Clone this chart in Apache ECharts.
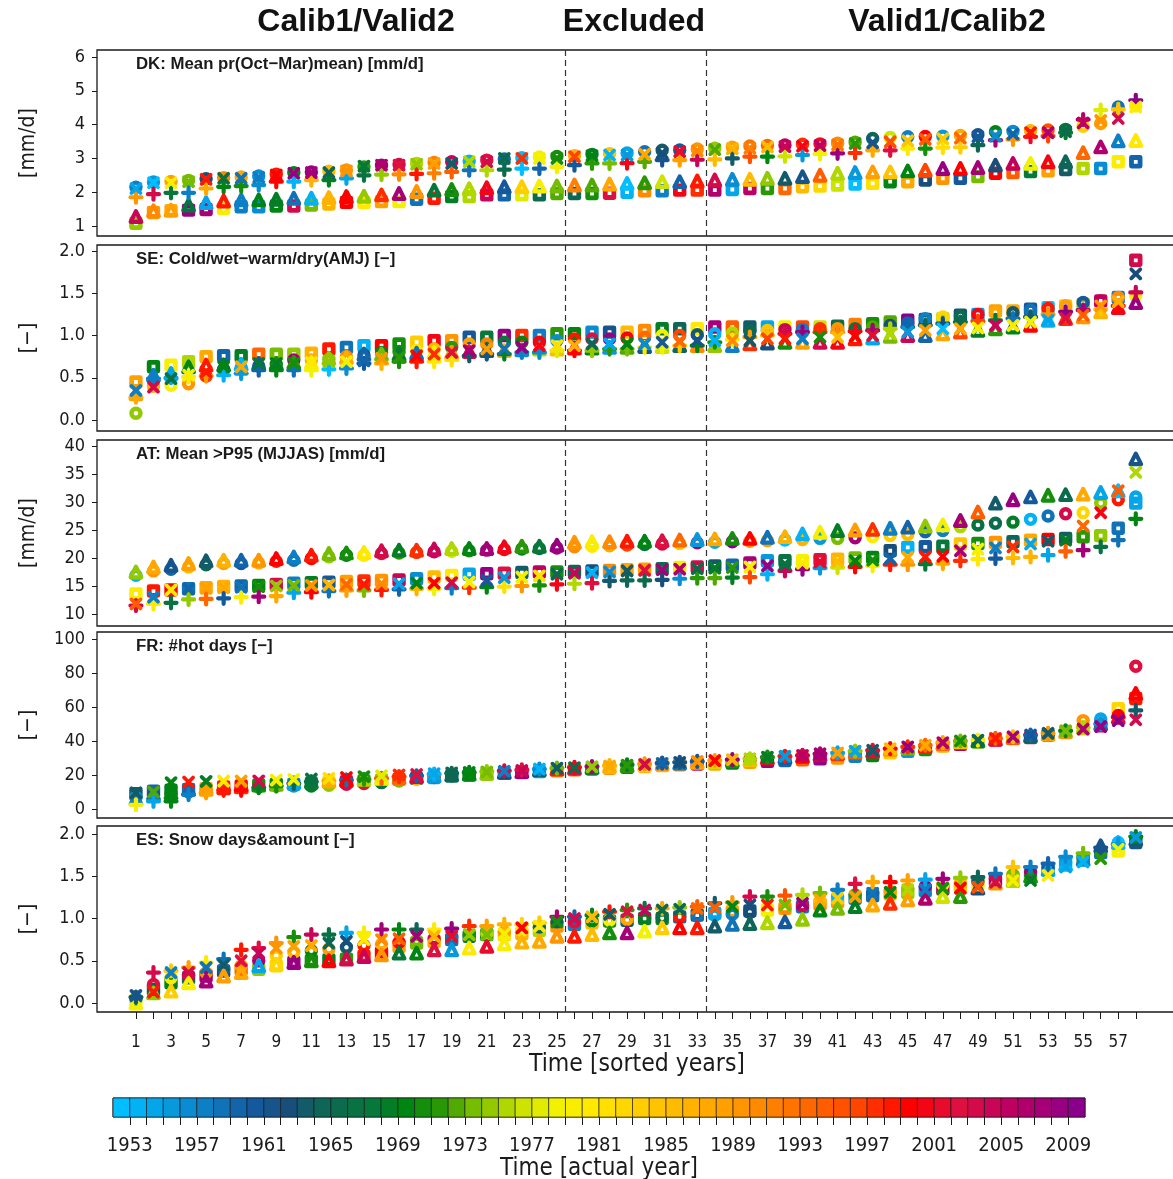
<!DOCTYPE html>
<html><head><meta charset="utf-8">
<script src="https://cdn.jsdelivr.net/npm/echarts@6/dist/echarts.min.js"></script>
<style>html,body{margin:0;padding:0;background:#fff}#c{width:1173px;height:1179px}</style>
</head><body><div id="c"></div>
<script>
// ---------------- DATA ----------------
const ranks = [1,2,3,4,5,6,7,8,9,10,11,12,13,14,15,16,17,18,19,20,21,22,23,24,25,26,27,28,29,30,31,32,33,34,35,36,37,38,39,40,41,42,43,44,45,46,47,48,49,50,51,52,53,54,55,56,57,58];
const rankLabels = [1,3,5,7,9,11,13,15,17,19,21,23,25,27,29,31,33,35,37,39,41,43,45,47,49,51,53,55,57];
const periodBounds = [25.5, 33.5];
const periodNames = ['Calib1/Valid2', 'Excluded', 'Valid1/Calib2'];
const panelTitles = ['DK: Mean pr(Oct\u2212Mar)mean) [mm/d]', 'SE: Cold/wet\u2212warm/dry(AMJ) [\u2212]', 'AT: Mean >P95 (MJJAS) [mm/d]', 'FR: #hot days [\u2212]', 'ES: Snow days&amount [\u2212]'];
const panelUnits = ['[mm/d]', '[\u2212]', '[mm/d]', '[\u2212]', '[\u2212]'];
const DK_ticks = [1,2,3,4,5,6];
const SE_ticks = [0,0.5,1,1.5,2];
const AT_ticks = [10,15,20,25,30,35,40];
const FR_ticks = [0,20,40,60,80,100];
const ES_ticks = [0,0.5,1,1.5,2];
const cbYears = [1953,1954,1955,1956,1957,1958,1959,1960,1961,1962,1963,1964,1965,1966,1967,1968,1969,1970,1971,1972,1973,1974,1975,1976,1977,1978,1979,1980,1981,1982,1983,1984,1985,1986,1987,1988,1989,1990,1991,1992,1993,1994,1995,1996,1997,1998,1999,2000,2001,2002,2003,2004,2005,2006,2007,2008,2009,2010];
const cbTickYears = [1953,1954,1955,1956,1957,1958,1959,1960,1961,1962,1963,1964,1965,1966,1967,1968,1969,1970,1971,1972,1973,1974,1975,1976,1977,1978,1979,1980,1981,1982,1983,1984,1985,1986,1987,1988,1989,1990,1991,1992,1993,1994,1995,1996,1997,1998,1999,2000,2001,2002,2003,2004,2005,2006,2007,2008,2009];
const cbLabelYears = [1953,1957,1961,1965,1969,1973,1977,1981,1985,1989,1993,1997,2001,2005,2009];

// DK
const DK_square = [1.08,1.40,1.45,1.47,1.49,1.52,1.57,1.57,1.59,1.59,1.62,1.65,1.70,1.70,1.72,1.72,1.79,1.82,1.87,1.87,1.92,1.92,1.92,1.92,1.96,1.96,1.96,1.97,2.00,2.04,2.04,2.06,2.06,2.06,2.08,2.11,2.11,2.11,2.16,2.18,2.21,2.24,2.26,2.31,2.31,2.36,2.41,2.41,2.46,2.56,2.58,2.61,2.63,2.67,2.70,2.70,2.90,2.90];
const DK_square_yr = [1975,1990,1988,2009,2008,1980,1958,1957,1970,2004,1974,1987,2000,1981,1989,1979,1959,1999,1969,1976,2005,1960,1978,1966,1973,1965,1971,2003,1954,1991,1958,2001,1998,2007,1955,2006,1972,1994,1986,1983,1977,1953,1982,1970,1988,1963,1990,1961,1974,2000,1995,1968,1989,1964,1976,1957,1980,1960];
const DK_circle = [2.15,2.30,2.32,2.35,2.40,2.43,2.45,2.48,2.53,2.58,2.60,2.62,2.66,2.75,2.80,2.82,2.85,2.88,2.90,2.92,2.95,2.98,3.02,3.04,3.06,3.08,3.12,3.14,3.16,3.20,3.24,3.25,3.28,3.30,3.33,3.37,3.38,3.40,3.42,3.43,3.45,3.48,3.59,3.62,3.64,3.65,3.66,3.68,3.70,3.79,3.80,3.82,3.84,3.86,3.95,4.03,4.52,4.55];
const DK_circle_yr = [1958,1956,1989,1974,1963,1991,1988,1957,1999,1970,2009,1986,1990,1972,2008,2004,1976,1992,2005,1954,2003,1960,1953,1980,1971,1987,1969,1985,1955,1959,1964,1961,1990,1975,1989,1993,1994,2006,1998,2002,1991,1973,1965,1977,1958,2000,1956,1988,1962,1970,1957,1987,1996,1966,1984,1989,1959,1980];
const DK_triangle = [1.28,1.45,1.47,1.62,1.69,1.74,1.77,1.77,1.79,1.82,1.82,1.84,1.87,1.88,1.92,1.96,2.02,2.06,2.08,2.10,2.13,2.16,2.16,2.18,2.18,2.21,2.21,2.24,2.26,2.28,2.31,2.31,2.33,2.36,2.38,2.38,2.41,2.41,2.46,2.50,2.56,2.58,2.60,2.60,2.63,2.65,2.70,2.70,2.73,2.80,2.85,2.85,2.90,2.90,3.17,3.34,3.52,3.53];
const DK_triangle_yr = [2005,1991,1989,1967,1955,1999,1958,1970,1969,1959,1954,1987,2000,1975,1998,2008,1990,1968,1971,1976,2001,1961,1984,1980,1974,1992,1973,1988,1953,1972,1977,1960,1999,2004,1957,1986,1975,1964,1962,1995,1976,1956,1989,1985,1970,1997,2009,2000,2008,1963,2006,1979,2001,1965,1994,2007,1958,1981];
const DK_cross = [2.11,2.28,2.28,2.31,2.38,2.41,2.41,2.44,2.51,2.56,2.58,2.58,2.63,2.77,2.80,2.80,2.83,2.85,2.85,2.90,2.90,3.00,3.00,3.00,3.00,3.05,3.08,3.10,3.10,3.12,3.16,3.20,3.22,3.26,3.29,3.30,3.34,3.35,3.36,3.38,3.40,3.44,3.46,3.49,3.52,3.56,3.58,3.60,3.64,3.66,3.72,3.76,3.76,3.79,4.05,4.12,4.18,4.52];
const DK_cross_yr = [1955,1953,1980,1974,1999,1967,1959,1958,2000,2009,2008,1965,1990,1968,2007,2003,1975,1989,1964,1976,2004,1966,1998,1979,1971,1997,1970,1954,1956,1988,1963,2002,1991,1973,1987,1992,1986,2005,2001,2006,1993,1972,1962,1996,1985,1995,1984,1994,1961,1957,1960,1999,2007,1966,2006,1990,2004,1981];
const DK_plus = [1.85,1.94,1.98,1.98,2.11,2.16,2.18,2.21,2.31,2.31,2.36,2.36,2.41,2.50,2.52,2.53,2.54,2.56,2.60,2.65,2.65,2.67,2.70,2.70,2.75,2.80,2.85,2.85,2.86,2.90,2.95,2.95,2.96,2.97,3.00,3.05,3.05,3.06,3.10,3.13,3.15,3.16,3.24,3.24,3.29,3.29,3.32,3.33,3.39,3.54,3.56,3.64,3.66,3.76,4.15,4.43,4.45,4.72];
const DK_plus_yr = [1990,2004,1968,1958,1988,1970,1971,1957,2000,1954,1987,1969,1955,1967,1975,1991,1999,1992,1995,1959,1976,1966,1953,1960,1980,1961,1972,1974,2001,1973,1962,1989,2005,1986,1964,1996,1970,1977,1956,1979,2009,1998,1988,2003,1981,1971,1982,1984,1965,2008,1990,2002,1997,1969,2006,1978,1985,2010];

// SE
const SE_square = [0.45,0.63,0.65,0.69,0.75,0.76,0.76,0.78,0.78,0.78,0.79,0.84,0.86,0.88,0.88,0.90,0.92,0.94,0.94,0.98,0.98,1.00,1.00,1.00,1.02,1.02,1.04,1.04,1.04,1.06,1.08,1.08,1.08,1.10,1.10,1.10,1.10,1.10,1.10,1.10,1.11,1.13,1.14,1.16,1.18,1.19,1.20,1.24,1.25,1.29,1.29,1.31,1.33,1.35,1.37,1.41,1.45,1.89];
const SE_square_yr = [1989,1970,1980,1976,1988,1960,1969,1994,1974,1975,1987,1999,1959,1954,2000,1971,1984,2001,1990,1961,1968,2009,1998,1958,1972,1970,1957,1962,1986,1991,1969,1965,1981,2008,1995,1964,1955,1979,1997,1977,1966,1992,1971,1973,2010,1963,1976,1963,1956,1989,1988,1961,1953,1985,1975,2005,1958,2004];
const SE_circle = [0.08,0.40,0.41,0.43,0.52,0.60,0.62,0.64,0.66,0.71,0.71,0.72,0.75,0.77,0.80,0.81,0.82,0.84,0.86,0.90,0.90,0.92,0.92,0.92,0.94,0.96,0.96,0.96,0.97,0.98,1.00,1.00,1.01,1.02,1.03,1.05,1.06,1.07,1.07,1.08,1.08,1.08,1.10,1.12,1.15,1.20,1.22,1.23,1.25,1.27,1.27,1.30,1.32,1.35,1.39,1.41,1.45,1.47];
const SE_circle_yr = [1975,1987,1980,1990,1998,1959,1955,1961,1970,2008,1988,1974,1991,1962,1969,1971,1981,1986,1972,1989,1992,1968,1970,2000,1957,1999,2003,2009,2001,1994,1979,1997,1964,1954,1976,1965,1985,2005,1958,1998,1990,1967,1973,1963,1960,1958,1983,1966,2001,1988,1964,1959,1999,1989,1961,2006,1991,1980];
const SE_triangle = [0.31,0.53,0.55,0.63,0.65,0.65,0.66,0.67,0.67,0.68,0.68,0.73,0.74,0.78,0.78,0.78,0.79,0.80,0.80,0.81,0.82,0.82,0.83,0.84,0.84,0.85,0.85,0.86,0.86,0.87,0.87,0.88,0.88,0.88,0.88,0.90,0.91,0.92,0.92,0.92,0.92,0.96,0.97,0.99,1.00,1.00,1.02,1.04,1.06,1.08,1.10,1.12,1.18,1.20,1.22,1.28,1.33,1.39];
const SE_triangle_yr = [1989,1958,1955,1970,1999,1969,1954,1961,1971,1972,1980,1975,1988,1960,1974,1968,1959,1979,1990,2003,1964,1987,1957,1976,1986,2000,1970,1956,1973,1962,1977,1965,1991,1975,1958,1998,1963,1971,1989,2004,2001,1999,1955,1974,2005,1960,1988,1997,1969,1972,1970,2000,1954,1998,1990,1987,2001,2009];
const SE_cross = [0.35,0.39,0.49,0.53,0.57,0.63,0.63,0.67,0.67,0.67,0.68,0.69,0.69,0.70,0.73,0.74,0.76,0.78,0.80,0.82,0.84,0.84,0.86,0.88,0.88,0.88,0.90,0.90,0.90,0.90,0.92,0.93,0.94,0.94,0.94,0.94,0.96,0.96,0.96,0.98,0.98,0.99,1.00,1.02,1.04,1.06,1.08,1.08,1.09,1.12,1.12,1.16,1.18,1.20,1.24,1.35,1.40,1.73];
const SE_cross_yr = [1958,2004,1967,1980,1999,1970,1988,1968,1969,1971,1981,1975,1979,1960,1990,1972,2000,1998,2003,2008,1989,1959,2009,2001,1982,1987,1965,1955,1970,1957,1961,1994,1962,1954,1991,1964,1997,1999,1958,1971,1986,2000,2002,1976,1956,1989,1953,1988,1980,2005,1981,1979,1955,2003,1995,1990,1987,1963];
const SE_plus = [0.27,0.49,0.50,0.51,0.52,0.53,0.55,0.59,0.59,0.59,0.59,0.60,0.61,0.67,0.67,0.69,0.69,0.69,0.71,0.76,0.78,0.78,0.80,0.80,0.82,0.82,0.82,0.84,0.84,0.86,0.86,0.88,0.88,0.92,0.95,0.98,1.00,1.02,1.04,1.04,1.04,1.05,1.06,1.08,1.10,1.12,1.14,1.16,1.17,1.18,1.20,1.22,1.25,1.28,1.30,1.31,1.35,1.51];
const SE_plus_yr = [1988,1958,1955,1980,1990,1954,1956,1960,1970,1959,1979,1953,1957,1961,1987,1971,1999,1981,1982,1964,1962,1969,1958,1957,1978,2000,1975,1972,1974,1980,1979,1984,1970,1971,1981,1989,1986,2004,2009,1998,1991,2001,2008,1976,1960,1965,1963,1966,1997,1968,1959,1964,1990,2010,2007,1985,2000,2005];

// AT
const AT_square = [13.6,14.1,14.3,14.5,14.7,14.9,15.0,15.1,15.3,15.5,15.6,15.7,15.8,15.9,16.0,16.1,16.3,16.6,16.9,17.1,17.2,17.3,17.4,17.5,17.5,17.6,17.7,17.8,17.9,18.0,18.1,18.3,18.4,18.6,18.7,19.1,19.5,19.5,19.5,19.7,19.8,20.0,20.1,21.3,21.9,22.0,22.1,22.5,22.6,22.8,22.9,23.2,23.3,23.5,23.8,24.0,25.3,29.8];
const AT_square_yr = [1980,1999,2000,1959,1988,1987,1960,1970,2004,1958,1969,1961,1989,1998,1990,2005,1957,1986,1981,1955,2009,2003,1964,2006,1971,1965,1963,1991,1988,1989,1966,1980,2004,1964,1960,2008,1956,1967,1979,2003,1987,1974,1970,1963,1954,1961,1968,1985,1971,1990,1965,1988,2000,1964,1972,1975,1959,1955];
const AT_circle = [16.9,17.7,18.0,18.4,18.8,19.0,19.0,19.1,19.4,19.6,19.9,20.2,20.5,20.5,20.8,20.9,21.0,21.1,21.2,21.3,21.4,21.5,21.6,21.7,21.8,22.0,22.1,22.2,22.3,22.4,22.5,22.6,22.7,22.8,22.9,23.0,23.1,23.2,23.3,23.5,23.5,23.6,23.8,24.0,24.2,24.7,24.9,25.6,25.9,26.2,26.4,26.9,27.5,27.9,28.1,29.8,30.4,30.9];
const AT_circle_yr = [1954,1990,1960,1986,1965,1989,1961,1987,1999,1959,2000,1975,1970,1980,2003,1972,1998,2006,1977,1971,2009,2001,1969,1967,2008,1991,1981,1988,1997,1968,2004,1985,2007,1955,2010,1990,1989,1953,1987,1956,1974,2008,1980,1984,1986,1960,1958,1976,1967,1966,1969,1954,1959,2004,1983,1975,1999,1955];
const AT_triangle = [17.5,18.4,18.7,19.0,19.5,19.6,19.6,19.6,19.9,20.2,20.5,20.8,20.9,21.0,21.3,21.4,21.4,21.6,21.7,21.7,21.7,22.0,22.1,22.1,22.3,22.8,22.9,22.9,23.0,23.0,23.1,23.2,23.3,23.4,23.5,23.5,23.7,23.8,24.3,24.6,24.9,25.0,25.1,25.3,25.5,25.7,25.9,26.7,28.2,29.8,30.4,30.9,31.2,31.3,31.4,31.7,32.0,37.7];
const AT_triangle_yr = [1975,1988,1962,1989,1964,1987,1960,1990,2000,1958,1999,1974,1971,1981,2004,1969,1998,2005,1976,1970,2008,2001,1972,1968,2009,1990,1980,1991,1999,1970,2003,1994,1956,1988,1971,2000,1959,1987,1954,1980,1969,1989,1998,1958,1960,1975,1979,2008,1995,1964,2009,1961,1971,1966,1988,1955,1953,1962];
const AT_cross = [11.8,13.0,14.3,14.5,14.6,14.7,14.8,14.9,15.0,15.1,15.1,15.2,15.3,15.3,15.4,15.4,15.5,15.5,15.6,15.7,16.0,16.5,16.6,16.8,17.1,17.3,17.4,17.5,17.7,17.8,17.9,18.0,18.1,18.2,18.3,18.4,18.6,18.9,19.1,19.3,19.4,19.5,19.6,19.9,20.1,20.2,20.3,21.3,21.6,21.8,22.0,22.5,23.0,23.2,25.7,28.1,32.0,35.3];
const AT_cross_yr = [1995,1958,1981,1960,1989,1988,1959,1971,1975,1974,1990,1987,1994,1999,1991,1955,1970,2000,2004,1980,1961,1956,1979,1982,1965,2005,1954,1957,1964,2003,2008,2007,1966,1969,1972,1980,2009,1967,1981,2002,1986,1970,1971,1960,1988,1999,2000,2008,1979,1958,1998,1955,1964,1969,1994,2001,1995,1976];
const AT_plus = [11.5,11.8,12.0,12.6,12.7,12.8,13.0,13.1,13.2,13.8,13.9,14.1,14.2,14.2,14.3,14.4,14.5,14.5,14.6,14.7,14.8,14.9,15.0,15.1,15.3,15.4,15.5,15.9,16.0,16.0,16.1,16.3,16.4,16.4,16.5,16.6,17.1,17.7,18.0,18.2,18.3,18.4,18.6,18.8,18.8,18.9,19.0,19.5,19.8,19.9,20.0,20.2,20.5,21.2,21.4,22.0,23.2,27.0];
const AT_plus_yr = [2004,1981,1967,1975,1994,1961,1980,2008,1988,1955,2000,1959,1989,1974,1999,1960,1987,1979,1958,1998,1970,1982,1990,1971,2001,1976,2003,1964,1965,1966,1963,1957,1972,1973,1969,1997,1954,2005,2009,1956,1977,2000,1980,1999,1990,1968,1988,1998,1981,1961,1986,1987,1955,1995,2008,1967,1959,1970];

// FR
const FR_square = [9,10.5,11,11.5,12,13,13.5,14,14.5,14.5,15,15.5,16,16.5,17,17.5,18,18.5,19.5,20,20.5,21,21.5,22,22.5,23,23.5,24,24.5,25,25.5,26,26.5,26.5,27,27.5,28,28.5,29,29.5,30,31,31.5,33,34,35,37,38,39.5,40.5,41.5,42,43.5,45,47,49,59,65];
const FR_square_yr = [1964,1960,1969,1959,1989,1999,2000,1971,1970,1958,1967,1984,2004,1972,1975,1998,1961,1956,1965,1969,1974,1957,2003,1955,1988,1994,1971,1990,1970,1987,1986,1991,2005,1988,1969,1989,2008,1960,1995,2009,1990,1958,1970,1984,1956,1971,1987,2007,1980,1994,1988,2004,1961,1989,1981,2005,1983,1999];
const FR_circle = [7,8,9,10,11,12,12.5,13,13.5,13.5,13.5,14,14.5,15,15.5,16.5,17.5,18.5,19.5,20.5,21,21.5,22,22.5,23,23.5,24,24.5,25,25.5,26.5,27,27.5,28,28.5,29,30,31,31.5,32,32.5,33.5,34,35,36,37,38.5,39.5,40,41,42,43,44,46,52,53,55,84];
const FR_circle_yr = [1957,1963,1970,1958,1990,2000,1999,1971,1972,1956,1969,1975,2004,2003,1967,1974,1988,1998,1965,1970,1976,1955,2008,1954,1989,2001,1971,1980,1987,1973,1959,1981,1997,1991,1979,2005,2009,1953,1995,2007,1988,2002,1964,1986,1977,1969,1998,1990,1960,1999,1985,2008,1966,1989,1990,1955,2000,2003];
const FR_triangle = [6,9,9.5,11.5,11.6,12.5,13,14,14.5,15.5,16,16.5,17,17.5,18,18.5,19,19.5,20,20.5,21,21.5,22,23,23.5,24,24.5,25,25.5,26,26.5,27,27.5,28,28.5,29,30,30.5,31,32,32.5,33.5,34,35,36,37,38.5,39.5,40,41,42,43,44,45.5,48,50,54,68];
const FR_triangle_yr = [1958,1959,1970,1960,1989,1999,1998,1971,1974,1955,1969,1988,2000,1976,1980,1994,2004,1956,1965,1970,1975,1963,2009,1964,1999,2003,1966,1987,1972,1983,1990,1958,1988,1977,1971,1986,2001,1961,2000,2005,1998,1995,2002,1989,1974,1999,1994,1985,1970,2004,1995,1965,1988,1990,1976,1959,2003,2000];
const FR_cross = [9.5,10,15.5,15.9,16.2,16.4,16.4,16.5,17.0,17.4,17.6,18.0,18.5,19.0,19.5,20.0,20.3,20.8,21.2,21.5,21.8,22.2,22.6,23.5,24.0,24.3,24.8,25.3,25.8,26.2,26.8,27.4,28.0,28.5,29.0,29.5,30.5,31.0,31.5,32.5,33.0,34.0,34.5,35.5,36.5,37.5,39.0,40.0,40.5,41.5,42.5,43.5,44.5,46.0,47.0,48.5,52.0,52.5];
const FR_cross_yr = [1964,1973,1970,1999,1969,1981,1989,2004,1980,1979,1967,1982,2000,1971,1978,1998,2003,1955,1965,1970,1974,1958,2005,1954,1964,1966,1975,1988,1972,2004,1960,1963,1990,2000,1987,1976,1969,1956,2006,2008,1989,1955,1964,1986,2009,1988,2007,1971,1965,1999,2008,1961,1964,1974,2007,2009,2010,2004];
const FR_plus = [2.5,4.5,4.5,8.5,9.5,11,11,12.5,13.5,15,16,16.5,17,17.5,18,19,19.5,20.5,21,21.5,22,22.5,23,23.5,24,24.5,25,25.5,26,26.5,27,27.5,28,28.5,29,29.5,30.5,31,31.5,32.5,33,34,34.5,35.5,36.5,37.5,39,40,40.5,41.5,42.5,43.5,44.5,46,48,50,54,58];
const FR_plus_yr = [1980,1955,1970,1958,1989,1999,2000,1969,1971,1965,1967,1988,1959,1972,1995,1998,1960,1954,1966,1970,1975,2004,2003,1957,1974,2001,2008,1987,1969,1990,1961,1962,1961,1989,2009,1976,1971,1999,2005,2007,1955,1975,2002,2000,1998,1994,1988,1974,1980,1995,1986,1960,1990,1970,1976,1956,2000,1964];

// ES
const ES_square = [0.03,0.16,0.24,0.30,0.32,0.38,0.40,0.40,0.44,0.48,0.50,0.51,0.52,0.55,0.59,0.67,0.71,0.73,0.75,0.79,0.81,0.81,0.82,0.86,0.91,0.93,0.95,0.97,0.98,1.00,1.00,1.02,1.04,1.06,1.08,1.09,1.10,1.12,1.14,1.17,1.20,1.24,1.27,1.29,1.31,1.33,1.35,1.38,1.41,1.45,1.48,1.52,1.58,1.66,1.70,1.78,1.80,1.90];
const ES_square_yr = [1980,1964,1970,1965,2008,1963,1994,1975,1983,2009,1971,1969,1972,1999,2000,1989,1974,1988,1959,1966,1970,1984,1987,1976,1990,1958,1986,1971,1964,1969,1970,1960,1965,1955,1988,1963,1980,1989,1959,1991,1990,1958,1960,1987,1975,1956,2007,1985,1981,2008,1988,1974,1957,1954,1971,1959,1980,1962];
const ES_circle = [0.05,0.22,0.30,0.33,0.36,0.40,0.44,0.50,0.56,0.60,0.62,0.64,0.66,0.68,0.70,0.72,0.74,0.76,0.78,0.80,0.82,0.84,0.86,0.90,0.96,0.96,0.97,0.98,0.99,1.00,1.01,1.02,1.03,1.04,1.05,1.07,1.09,1.12,1.15,1.20,1.26,1.28,1.30,1.32,1.35,1.38,1.40,1.42,1.44,1.47,1.52,1.55,1.60,1.66,1.72,1.80,1.90,1.95];
const ES_circle_yr = [1958,2003,1980,2005,1990,1960,1988,2008,1984,1986,1970,1989,1964,1999,1987,2000,1974,2004,1959,1971,1976,1990,1981,1965,1964,2003,1970,1980,1988,1969,1966,1999,1959,1955,1958,1963,1979,1991,2004,1986,1954,1972,1960,1989,1975,2009,1982,1987,1964,2007,1974,2008,1961,1956,1959,1971,1953,1970];
const ES_triangle = [0.00,0.12,0.14,0.24,0.26,0.32,0.36,0.44,0.46,0.48,0.50,0.50,0.52,0.55,0.57,0.59,0.59,0.63,0.63,0.65,0.67,0.70,0.72,0.73,0.79,0.79,0.81,0.83,0.83,0.85,0.89,0.89,0.89,0.91,0.93,0.94,0.95,0.96,0.99,1.10,1.12,1.14,1.16,1.18,1.22,1.24,1.26,1.26,1.36,1.42,1.45,1.50,1.58,1.64,1.70,1.86,1.90,1.94];
const ES_triangle_yr = [1979,1975,1984,1980,2008,1989,1988,1955,1983,2009,1971,2000,2004,2005,1990,1968,1970,2003,1956,1981,2002,1980,1987,1988,1990,1999,1986,1971,2008,1979,1984,2000,1999,1964,1959,1965,1976,1961,1975,1970,1974,1969,1988,1998,1989,2007,1977,1972,1963,1990,1976,1971,1955,1954,1958,1962,1953,1964];
const ES_cross = [0.09,0.13,0.36,0.36,0.42,0.45,0.50,0.59,0.65,0.67,0.68,0.71,0.73,0.75,0.75,0.76,0.79,0.79,0.79,0.81,0.81,0.82,0.89,0.91,0.96,1.00,1.02,1.05,1.08,1.10,1.10,1.11,1.12,1.13,1.14,1.16,1.16,1.16,1.18,1.22,1.24,1.26,1.30,1.31,1.34,1.34,1.36,1.36,1.37,1.43,1.45,1.45,1.51,1.61,1.67,1.71,1.82,1.96];
const ES_cross_yr = [1962,1999,1958,2004,1959,1964,2003,2005,1990,1989,1988,1965,1963,1980,1991,1995,2008,1987,2002,1975,1974,1979,2000,1981,1971,2004,1986,1964,2003,2005,1966,1965,1994,1995,1970,1963,1999,1974,2009,1988,1984,1989,1959,1970,1976,1958,1971,2000,1996,2004,1980,1969,1981,1955,1954,1972,1979,1956];
const ES_plus = [0.07,0.36,0.38,0.42,0.48,0.52,0.63,0.65,0.71,0.78,0.81,0.81,0.83,0.83,0.87,0.87,0.87,0.87,0.88,0.91,0.91,0.93,0.93,0.95,1.02,1.02,1.04,1.08,1.10,1.12,1.12,1.13,1.14,1.18,1.19,1.26,1.26,1.27,1.28,1.30,1.34,1.41,1.43,1.43,1.45,1.46,1.47,1.48,1.49,1.53,1.61,1.61,1.65,1.73,1.77,1.84,1.88,1.97];
const ES_plus_yr = [1964,2004,1984,1989,1981,1959,1999,2003,1990,1971,2005,1967,1955,1980,2008,1970,1965,1981,2009,1998,1989,1987,1983,1984,2007,1960,1969,1999,1972,1968,1988,1975,1995,1964,1990,2004,1971,1996,1976,1974,1958,2003,1988,2000,1989,1955,2008,1975,1965,1959,1985,1958,1960,1957,1974,1962,1956,1970];

// ---------------- STYLE ----------------
const FONT_N = "'DejaVu Sans Condensed','Liberation Sans',Arial,sans-serif";
const colorStops = [[1953,[0,190,255]],[1957,[10,140,210]],[1961,[21,88,156]],[1963,[23,79,122]],[1965,[14,102,86]],[1968,[5,120,58]],[1970,[0,132,18]],[1972,[42,152,6]],[1974,[118,188,0]],[1977,[205,228,0]],[1979,[242,242,0]],[1981,[255,233,0]],[1985,[255,196,0]],[1989,[255,160,0]],[1993,[255,116,0]],[1997,[255,69,0]],[2000,[255,0,0]],[2003,[222,16,64]],[2006,[190,0,98]],[2010,[139,0,139]]];
function yearColor(y) {
  if (y <= colorStops[0][0]) return 'rgb(' + colorStops[0][1].join(',') + ')';
  for (let i = 1; i < colorStops.length; i++) {
    const a = colorStops[i-1], b = colorStops[i];
    if (y <= b[0]) {
      const t = (y - a[0]) / (b[0] - a[0]);
      const c = a[1].map((v, j) => Math.round(v + (b[1][j] - v) * t));
      return 'rgb(' + c.join(',') + ')';
    }
  }
  return 'rgb(' + colorStops[colorStops.length-1][1].join(',') + ')';
}
const SYM = {
  square:   {symbol: 'rect', size: 8.6, bw: 4.8},
  circle:   {symbol: 'circle', size: 9, bw: 4.4},
  triangle: {symbol: 'triangle', size: 10.6, bw: 4.2},
  plus:     {symbol: 'path://M5,0L5,10M0,5L10,5', size: 11, bw: 4.2},
  cross:    {symbol: 'path://M0,0L10,10M0,10L10,0', size: 9, bw: 3.8}
};
const drawOrder = ['square','circle','triangle','plus','cross'];

const panels = [
  {ticks: DK_ticks, dec: 0, min: 0.704, max: 6.207, s: {square:[DK_square,DK_square_yr], circle:[DK_circle,DK_circle_yr], triangle:[DK_triangle,DK_triangle_yr], cross:[DK_cross,DK_cross_yr], plus:[DK_plus,DK_plus_yr]}},
  {ticks: SE_ticks, dec: 1, min: -0.13, max: 2.071, s: {square:[SE_square,SE_square_yr], circle:[SE_circle,SE_circle_yr], triangle:[SE_triangle,SE_triangle_yr], cross:[SE_cross,SE_cross_yr], plus:[SE_plus,SE_plus_yr]}},
  {ticks: AT_ticks, dec: 0, min: 7.86, max: 41.07, s: {square:[AT_square,AT_square_yr], circle:[AT_circle,AT_circle_yr], triangle:[AT_triangle,AT_triangle_yr], cross:[AT_cross,AT_cross_yr], plus:[AT_plus,AT_plus_yr]}},
  {ticks: FR_ticks, dec: 0, min: -5.29, max: 104.12, s: {square:[FR_square,FR_square_yr], circle:[FR_circle,FR_circle_yr], triangle:[FR_triangle,FR_triangle_yr], cross:[FR_cross,FR_cross_yr], plus:[FR_plus,FR_plus_yr]}},
  {ticks: ES_ticks, dec: 1, min: -0.106, max: 2.095, s: {square:[ES_square,ES_square_yr], circle:[ES_circle,ES_circle_yr], triangle:[ES_triangle,ES_triangle_yr], cross:[ES_cross,ES_cross_yr], plus:[ES_plus,ES_plus_yr]}}
];
const tops = [50, 245, 440, 632, 826];
const PH = 186, PL = 97, PW = 1080;
const X_MIN = -1.22, X_MAX = 60.35;

const grid = [], xAxis = [], yAxis = [], series = [], graphic = [];
panels.forEach((p, i) => {
  const last = i === panels.length - 1;
  grid.push({left: PL, top: tops[i], width: PW, height: PH, show: true, borderColor: '#1a1a1a', borderWidth: 1.3, backgroundColor: 'transparent', outerBoundsMode: 'none', containLabel: false});
  xAxis.push({
    type: 'value', gridIndex: i, min: X_MIN, max: X_MAX, show: last, position: 'bottom',
    axisLine: {show: false, onZero: false}, splitLine: {show: false},
    axisTick: {show: last, customValues: ranks, length: 7, lineStyle: {color: '#1a1a1a', width: 1}},
    axisLabel: {show: last, customValues: rankLabels, margin: 22, fontSize: 17, color: '#1a1a1a', fontFamily: FONT_N},
    name: last ? 'Time [sorted years]' : '', nameLocation: 'middle', nameGap: 40, nameMoveOverlap: false,
    nameTextStyle: {fontSize: 24.5, color: '#1a1a1a', fontFamily: FONT_N}
  });
  yAxis.push({
    type: 'value', gridIndex: i, min: p.min, max: p.max, position: 'left',
    axisLine: {show: false, onZero: false}, splitLine: {show: false},
    axisTick: {show: true, customValues: p.ticks, length: 5, inside: false, lineStyle: {color: '#1a1a1a', width: 1}},
    axisLabel: {customValues: p.ticks, margin: 12, fontSize: 18, color: '#1a1a1a', fontFamily: FONT_N,
      formatter: v => Number(v).toFixed(p.dec)},
    name: panelUnits[i], nameLocation: 'middle', nameRotate: 90, nameGap: 58, nameMoveOverlap: false,
    nameTextStyle: {fontSize: 21, color: '#1a1a1a', fontFamily: FONT_N}
  });
  graphic.push({type: 'text', x: 136, y: tops[i] + 14, silent: true,
    style: {text: panelTitles[i], fill: '#1a1a1a', font: "bold 16.8px 'Liberation Sans', Arial, sans-serif", textAlign: 'left', textVerticalAlign: 'middle', verticalAlign: 'middle'}});
  drawOrder.forEach((shape, k) => {
    const vals = p.s[shape][0], yrs = p.s[shape][1], st = SYM[shape];
    const ser = {
      type: 'scatter', xAxisIndex: i, yAxisIndex: i, symbol: st.symbol, symbolSize: st.size,
      silent: true, animation: false,
      itemStyle: {color: 'transparent', borderWidth: st.bw, borderJoin: 'round', borderCap: 'round', opacity: 1},
      data: ranks.map((r, j) => ({value: [r, vals[j]], itemStyle: {borderColor: yearColor(yrs[j])}}))
    };
    if (k === 0) {
      ser.markLine = {silent: true, symbol: ['none','none'], label: {show: false}, animation: false,
        lineStyle: {type: [6, 4], color: '#333', width: 1.2},
        data: periodBounds.map(b => ({xAxis: b}))};
    }
    series.push(ser);
  });
});

// colorbar
grid.push({left: 113, top: 1098, width: 972, height: 19, show: true, borderColor: '#111', borderWidth: 1, backgroundColor: 'transparent', outerBoundsMode: 'none', containLabel: false});
xAxis.push({type: 'value', gridIndex: 5, min: 1952, max: 2010, position: 'bottom',
  axisLine: {show: false, onZero: false}, splitLine: {show: false},
  axisTick: {customValues: cbTickYears, length: 8, lineStyle: {color: '#1a1a1a'}},
  axisLabel: {customValues: cbLabelYears, margin: 19, fontSize: 20, color: '#1a1a1a', fontFamily: FONT_N, formatter: v => String(v)},
  name: 'Time [actual year]', nameLocation: 'middle', nameGap: 40, nameMoveOverlap: false,
  nameTextStyle: {fontSize: 24, color: '#1a1a1a', fontFamily: FONT_N}});
yAxis.push({type: 'value', gridIndex: 5, min: 0, max: 1, show: false});
series.push({
  type: 'custom', xAxisIndex: 5, yAxisIndex: 5, silent: true, animation: false,
  data: cbYears.map(y => [y]),
  renderItem: (params, api) => {
    const y = api.value(0);
    const p0 = api.coord([y - 1, 0]), p1 = api.coord([y, 1]);
    return {type: 'rect', shape: {x: p0[0], y: p1[1], width: p1[0] - p0[0], height: p0[1] - p1[1]},
      style: {fill: yearColor(y), stroke: '#111', lineWidth: 0.6}};
  }
});

const periodX = [356, 634, 947];
periodNames.forEach((t, i) => graphic.push({type: 'text', x: periodX[i], y: 22, silent: true,
  style: {text: t, fill: '#111', font: "bold 32px 'Liberation Sans', Arial, sans-serif", textAlign: 'center', textVerticalAlign: 'middle', align: 'center', verticalAlign: 'middle'}}));

const chart = echarts.init(document.getElementById('c'), null, {renderer: 'canvas', width: 1173, height: 1179});
chart.setOption({animation: false, backgroundColor: '#fff', textStyle: {fontFamily: FONT_N}, grid, xAxis, yAxis, series, graphic});
</script></body></html>
